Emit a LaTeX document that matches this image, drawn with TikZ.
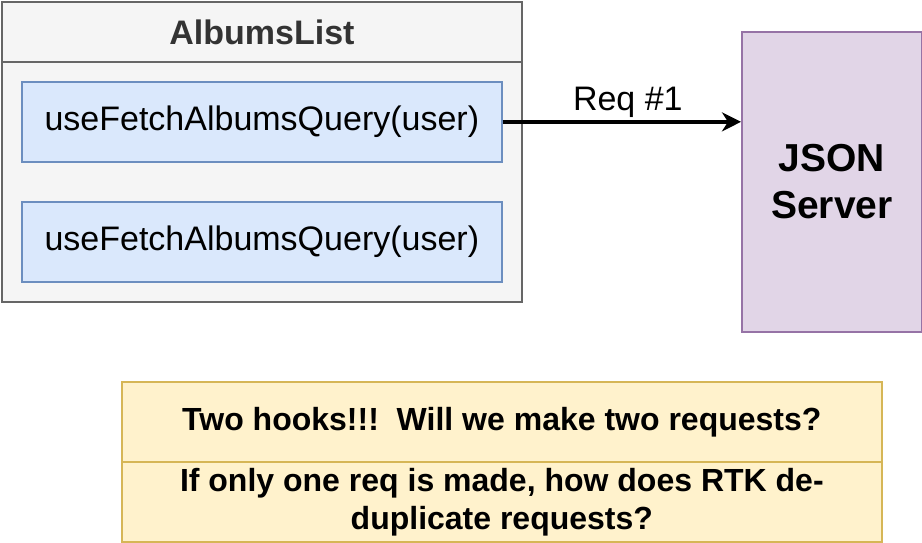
\documentclass[tikz,border=0pt]{standalone}
\usepackage{fontspec}
\setmainfont{Liberation Sans}
\usetikzlibrary{arrows.meta}
\definecolor{grayfill}{HTML}{F5F5F5}
\definecolor{graystroke}{HTML}{666666}
\definecolor{graytext}{HTML}{333333}
\definecolor{bluefill}{HTML}{DAE8FC}
\definecolor{bluestroke}{HTML}{6C8EBF}
\definecolor{purplefill}{HTML}{E1D5E7}
\definecolor{purplestroke}{HTML}{9673A6}
\definecolor{yellowfill}{HTML}{FFF2CC}
\definecolor{yellowstroke}{HTML}{D6B656}
\tikzset{
  container/.style={draw=graystroke, fill=grayfill, line width=2pt, anchor=north west, inner sep=0pt},
  hookbox/.style={draw=bluestroke, fill=bluefill, line width=1.7pt, anchor=north west, inner sep=0pt,
    minimum width=480pt, minimum height=80pt, font=\fontsize{34}{40}\selectfont},
  serverbox/.style={draw=purplestroke, fill=purplefill, line width=1.7pt, anchor=north west, inner sep=0pt,
    minimum width=180pt, minimum height=300pt, align=center, font=\fontsize{39}{47}\selectfont\bfseries},
  notebox/.style={draw=yellowstroke, fill=yellowfill, line width=1.7pt, anchor=north west, inner sep=0pt,
    minimum width=760pt, minimum height=80pt, align=center, font=\fontsize{32}{38}\selectfont\bfseries},
  conn/.style={line width=4pt, -{Stealth[length=19pt,width=19pt,inset=6pt]}},
}
\begin{document}
\begin{tikzpicture}[x=1pt,y=-1pt]
\useasboundingbox (0,0) rectangle (922,542);
% container
\node[container, minimum width=520pt, minimum height=300pt] (albums) at (1,1) {};
\node[container, minimum width=520pt, minimum height=60pt, font=\fontsize{34}{40}\selectfont\bfseries, text=graytext] (albumshead) at (1,1) {AlbumsList};
% hooks
\node[hookbox] (hook1) at (21,81) {useFetchAlbumsQuery(user)};
\node[hookbox] (hook2) at (21,201) {useFetchAlbumsQuery(user)};
% server
\node[serverbox] (server) at (741,31) {JSON\\Server};
% arrow
\draw[conn] (hook1.east) -- node[above, font=\fontsize{34}{40}\selectfont, inner sep=2pt, xshift=6pt] (reqlabel) {Req \#1} (hook1.east -| server.west);
% notes
\node[notebox] (note1) at (121,381) {Two hooks!!!\ \ Will we make two requests?};
\node[notebox] (note2) at (121,461) {If only one req is made, how does RTK de-\\duplicate requests?};
\end{tikzpicture}
\end{document}
